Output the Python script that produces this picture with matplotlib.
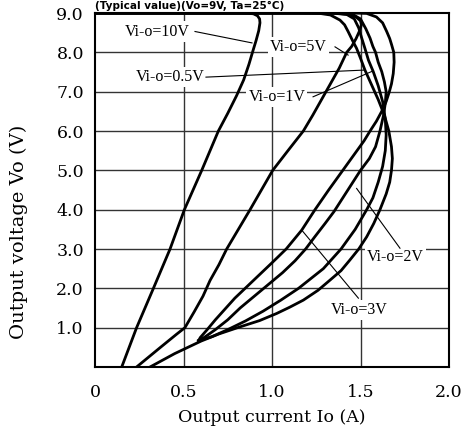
import matplotlib
matplotlib.use('Agg')
from matplotlib import pyplot as plt

# Io-Vo curves, one per input-output voltage difference
io_10v = [0, 0.80, 0.86, 0.895, 0.918, 0.93, 0.932, 0.925, 0.91, 0.893, 0.87, 0.84, 0.80, 0.75, 0.697,
          0.65, 0.603, 0.505, 0.424, 0.33, 0.235, 0.151]
vo_10v = [9.0, 9.0, 8.995, 8.98, 8.93, 8.85, 8.75, 8.55, 8.3, 8.05, 7.7, 7.3, 6.9, 6.45, 6.0,
          5.5, 5.0, 4.0, 3.0, 2.0, 1.0, 0.0]

io_5v = [0, 1.25, 1.36, 1.43, 1.475, 1.50, 1.505, 1.495, 1.475, 1.45, 1.422, 1.38, 1.33, 1.28, 1.23,
         1.177, 1.09, 1.004, 0.94, 0.876, 0.81, 0.744, 0.70, 0.65, 0.61, 0.56, 0.508, 0.46, 0.37, 0.235]
vo_5v = [9.0, 9.0, 8.99, 8.96, 8.9, 8.8, 8.7, 8.55, 8.35, 8.15, 8.0, 7.6, 7.2, 6.8, 6.4,
         6.0, 5.5, 5.0, 4.5, 4.0, 3.5, 3.0, 2.6, 2.2, 1.8, 1.4, 1.0, 0.83, 0.5, 0.0]

io_05v = [0, 1.15, 1.27, 1.33, 1.384, 1.41, 1.43, 1.455, 1.478, 1.50, 1.525, 1.56, 1.60, 1.635, 1.66,
          1.675, 1.68, 1.675, 1.665, 1.645, 1.61, 1.575, 1.535, 1.49, 1.44, 1.39, 1.328, 1.26, 1.177,
          1.10, 1.026, 0.93, 0.819, 0.70, 0.60, 0.45, 0.311]
vo_05v = [9.0, 9.0, 8.99, 8.95, 8.82, 8.7, 8.53, 8.3, 8.1, 7.85, 7.55, 7.2, 6.8, 6.4, 6.0,
          5.6, 5.3, 5.0, 4.7, 4.4, 4.0, 3.65, 3.31, 3.0, 2.72, 2.45, 2.21, 1.95, 1.70,
          1.52, 1.36, 1.18, 1.02, 0.84, 0.66, 0.34, 0.0]

io_1v = [0, 1.35, 1.42, 1.465, 1.49, 1.507, 1.525, 1.545, 1.572, 1.60, 1.625, 1.64, 1.645, 1.64,
         1.625, 1.60, 1.57, 1.535, 1.47, 1.39, 1.29, 1.15, 1.05, 0.95, 0.85, 0.75, 0.66, 0.585]
vo_1v = [9.0, 9.0, 8.97, 8.85, 8.62, 8.36, 8.1, 7.8, 7.51, 7.15, 6.75, 6.3, 5.9, 5.5,
         5.1, 4.7, 4.3, 4.0, 3.5, 3.0, 2.5, 2.0, 1.7, 1.42, 1.17, 0.95, 0.77, 0.67]

io_2v = [0, 1.38, 1.45, 1.50, 1.53, 1.554, 1.57, 1.585, 1.60, 1.62, 1.635, 1.645, 1.64, 1.63, 1.61,
         1.585, 1.55, 1.50, 1.45, 1.40, 1.35, 1.30, 1.24, 1.19, 1.13, 1.06, 0.98, 0.90, 0.82, 0.75,
         0.68, 0.62, 0.585]
vo_2v = [9.0, 9.0, 8.98, 8.85, 8.6, 8.36, 8.15, 8.0, 7.75, 7.51, 7.25, 7.0, 6.7, 6.4, 6.0,
         5.6, 5.3, 5.0, 4.65, 4.3, 3.95, 3.65, 3.3, 3.0, 2.7, 2.4, 2.1, 1.8, 1.5, 1.2,
         0.95, 0.76, 0.67]

io_3v = [0, 1.45, 1.535, 1.59, 1.625, 1.648, 1.665, 1.676, 1.688, 1.69, 1.685, 1.675, 1.663, 1.645,
         1.62, 1.59, 1.554, 1.52, 1.48, 1.44, 1.40, 1.32, 1.243, 1.168, 1.08, 1.00, 0.93, 0.86,
         0.79, 0.73, 0.68, 0.63, 0.595, 0.585]
vo_3v = [9.0, 9.0, 8.99, 8.9, 8.75, 8.53, 8.35, 8.19, 8.0, 7.75, 7.46, 7.2, 7.0, 6.75,
         6.5, 6.25, 6.0, 5.75, 5.5, 5.25, 5.0, 4.5, 4.0, 3.48, 3.0, 2.65, 2.35, 2.05,
         1.75, 1.45, 1.2, 0.93, 0.75, 0.67]

curves = [(io_10v, vo_10v), (io_5v, vo_5v), (io_05v, vo_05v),
          (io_1v, vo_1v), (io_2v, vo_2v), (io_3v, vo_3v)]

# label text, text position, pointer tip, pointer start
labels = ['Vi-o=10V', 'Vi-o=0.5V', 'Vi-o=5V', 'Vi-o=1V', 'Vi-o=2V', 'Vi-o=3V']
label_xy = [(0.353, 8.53), (0.424, 7.37), (1.148, 8.14), (1.028, 6.87), (1.698, 2.80), (1.492, 1.45)]
tip_xy = [(0.887, 8.24), (1.525, 7.55), (1.43, 7.93), (1.572, 7.53), (1.478, 4.54), (1.168, 3.48)]
tail_xy = [(0.565, 8.53), (0.627, 7.37), (1.356, 8.14), (1.232, 6.87), (1.723, 3.02), (1.488, 1.75)]

x_ticks = [0, 0.5, 1.0, 1.5, 2.0]
x_ticklabels = ['0', '0.5', '1.0', '1.5', '2.0']
y_ticks = [1, 2, 3, 4, 5, 6, 7, 8, 9]
y_ticklabels = ['1.0', '2.0', '3.0', '4.0', '5.0', '6.0', '7.0', '8.0', '9.0']

plt.rcParams['font.family'] = ['DejaVu Serif']

fig = plt.figure(figsize=(4.71, 4.34), dpi=100)
ax = fig.add_axes([0.2017, 0.1544, 0.7516, 0.8156])

for x in x_ticks[1:-1]:
    ax.axvline(x, color='#333333', lw=1.0, zorder=1)
for y in y_ticks[:-1]:
    ax.axhline(y, color='#333333', lw=1.0, zorder=1)

for io, vo in curves:
    ax.plot(io, vo, color='black', lw=2.0, solid_joinstyle='round', zorder=3)

for text, (tx, ty), (px, py), (qx, qy) in zip(labels, label_xy, tip_xy, tail_xy):
    ax.plot([qx, px], [qy, py], color='black', lw=0.8, zorder=4)
    ax.text(tx, ty, text, ha='center', va='center', fontsize=11.5,
            family=['Liberation Serif'], zorder=2,
            bbox=dict(facecolor='white', edgecolor='none', pad=1.5))

ax.set_xlim(0, 2.0)
ax.set_ylim(0, 9.0)
ax.set_xticks(x_ticks)
ax.set_xticklabels(x_ticklabels)
ax.set_yticks(y_ticks)
ax.set_yticklabels(y_ticklabels)
ax.tick_params(length=0, labelsize=12.5, pad=12)
ax.tick_params(axis='y', pad=8)
for s in ax.spines.values():
    s.set_linewidth(1.5)

ax.set_xlabel('Output current Io (A)', fontsize=12.5, labelpad=6)
ax.set_ylabel('Output voltage Vo (V)', fontsize=14)
ax.yaxis.set_label_coords(-0.19, 0.381)

fig.text(0.2017, 0.998, '(Typical value)(Vo=9V, Ta=25°C)', fontsize=7.5,
         fontweight='bold', family=['DejaVu Sans'], va='top')

fig.savefig('out.png', dpi=100)
